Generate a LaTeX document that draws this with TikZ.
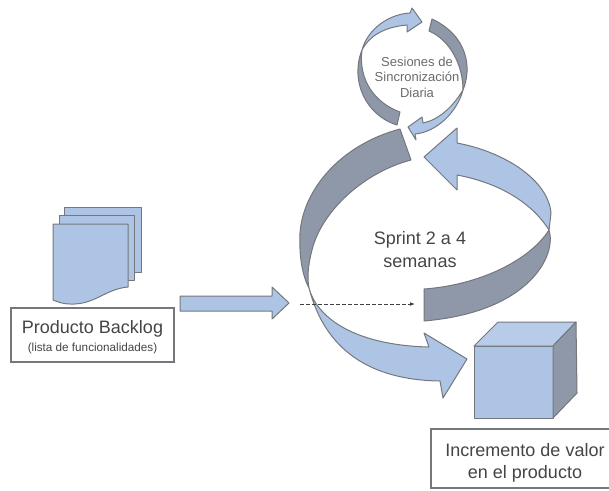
\documentclass[tikz,border=0pt]{standalone}
\usepackage{fontspec}
\setmainfont{Liberation Sans}
\usepackage{tikz}
\usetikzlibrary{positioning,arrows.meta}
\definecolor{paleblue}{HTML}{AEC4E5}
\definecolor{toplight}{HTML}{B8CBE8}
\definecolor{slate}{HTML}{8E98A8}
\definecolor{edgegray}{HTML}{74787C}
\definecolor{inkgray}{HTML}{454545}
\begin{document}
\begin{tikzpicture}[x=1pt, y=-1pt,
                      lightpart/.style={draw=edgegray, line width=1pt, fill=paleblue, line join=round},
                      darkpart/.style={draw=edgegray, line width=1pt, fill=slate, line join=round},
                      labelbox/.style={draw=edgegray, line width=1.2pt, fill=white, text=inkgray, align=center, inner sep=0pt}]
    \useasboundingbox (0,0) rectangle (609,490);
    \clip (0,0) rectangle (609,490);
    % pages
    \draw[lightpart] (64,207) -- (141,207) -- (141,272) -- (64,272) -- cycle;
    \draw[lightpart] (59,215) -- (134,215) -- (134,280) -- (59,280) -- cycle;
    \draw[lightpart] (53,224) -- (128,224) -- (128,287) .. controls (105,289) and (95,305) .. (70,304) .. controls (63,304) and (58,302) .. (53,300) -- cycle;
    \node[labelbox, minimum width=163pt, minimum height=54pt] (backlog) at (92.5,335)
      {\fontsize{18}{20}\selectfont\rule{0pt}{17pt}Producto Backlog\\[5pt]\fontsize{11.7}{13}\selectfont (lista de funcionalidades)};
    \draw[lightpart] (180,296) -- (272,296) -- (272,287) -- (289,303) -- (272,319) -- (272,311) -- (180,311) -- cycle;
    % daily loop
    \draw[lightpart] (362,50) .. controls (368,28) and (390,14) .. (410,13) -- (412,8) -- (422,22) -- (407,32) -- (407,25) .. controls (385,27) and (370,35) .. (362,50) -- cycle;
    \draw[darkpart] (432,19) -- (429,31) .. controls (450,40) and (463,65) .. (463,90) .. controls (472,68) and (468,36) .. (432,19) -- cycle;
    \draw[lightpart] (463,90) .. controls (452,108) and (438,120) .. (423,123) -- (422,117) -- (408,127) -- (416,140) -- (415,134) .. controls (437,132) and (457,112) .. (463,90) -- cycle;
    \draw[darkpart] (400,112) -- (397,125) .. controls (365,115) and (350,80) .. (362,50) .. controls (358,80) and (375,103) .. (400,112) -- cycle;
    \node[text=inkgray!80, align=center, font=\fontsize{13}{15.5}\selectfont] (daily) at (417,77) {Sesiones de\\Sincronización\\Diaria};
    % sprint loop
    \draw[lightpart] (424,157) -- (457,128) -- (457,143) .. controls (505,152) and (548,180) .. (551,213) -- (549,230) .. controls (530,200) and (495,182) .. (457,175) -- (457,190) -- cycle;
    \draw[darkpart] (549,230) .. controls (557,255) and (530,312) .. (424,321) -- (424,289) .. controls (480,285) and (530,260) .. (549,230) -- cycle;
    \draw[lightpart] (309,288) .. controls (316,315) and (350,345) .. (429,347) -- (424,333) -- (467,359) -- (443,398) -- (440,381) .. controls (370,380) and (325,350) .. (309,288) -- cycle;
    \draw[darkpart] (400,129) -- (411,160) .. controls (365,172) and (322,210) .. (312,250) .. controls (308,265) and (307,278) .. (309,288) .. controls (302,275) and (299,255) .. (300,233) .. controls (303,190) and (340,145) .. (400,129) -- cycle;
    \node[text=inkgray, align=center, font=\fontsize{18}{23}\selectfont] (sprint) at (420,250) {Sprint 2 a 4\\semanas};
    \coordinate (dashstart) at (300,304);
    \coordinate (dashend) at (415,304);
    \draw[-{Latex[length=5pt]}, dash pattern=on 4pt off 2pt, line width=0.9pt, black!75] (dashstart) -- (dashend);
    % increment cube
    \draw[lightpart] (474,346) -- (553,346) -- (553,418) -- (474,418) -- cycle;
    \draw[lightpart, fill=toplight] (474,346) -- (498,322) -- (576,322) -- (553,346) -- cycle;
    \draw[darkpart] (553,346) -- (576,322) -- (577,393) -- (553,418) -- cycle;
    \node[labelbox, minimum width=188pt, minimum height=59pt, font=\fontsize{18}{22}\selectfont] (increment) at (525,458.5) {\rule{0pt}{21pt}Incremento de valor\\en el producto};
  \end{tikzpicture}
\end{document}
